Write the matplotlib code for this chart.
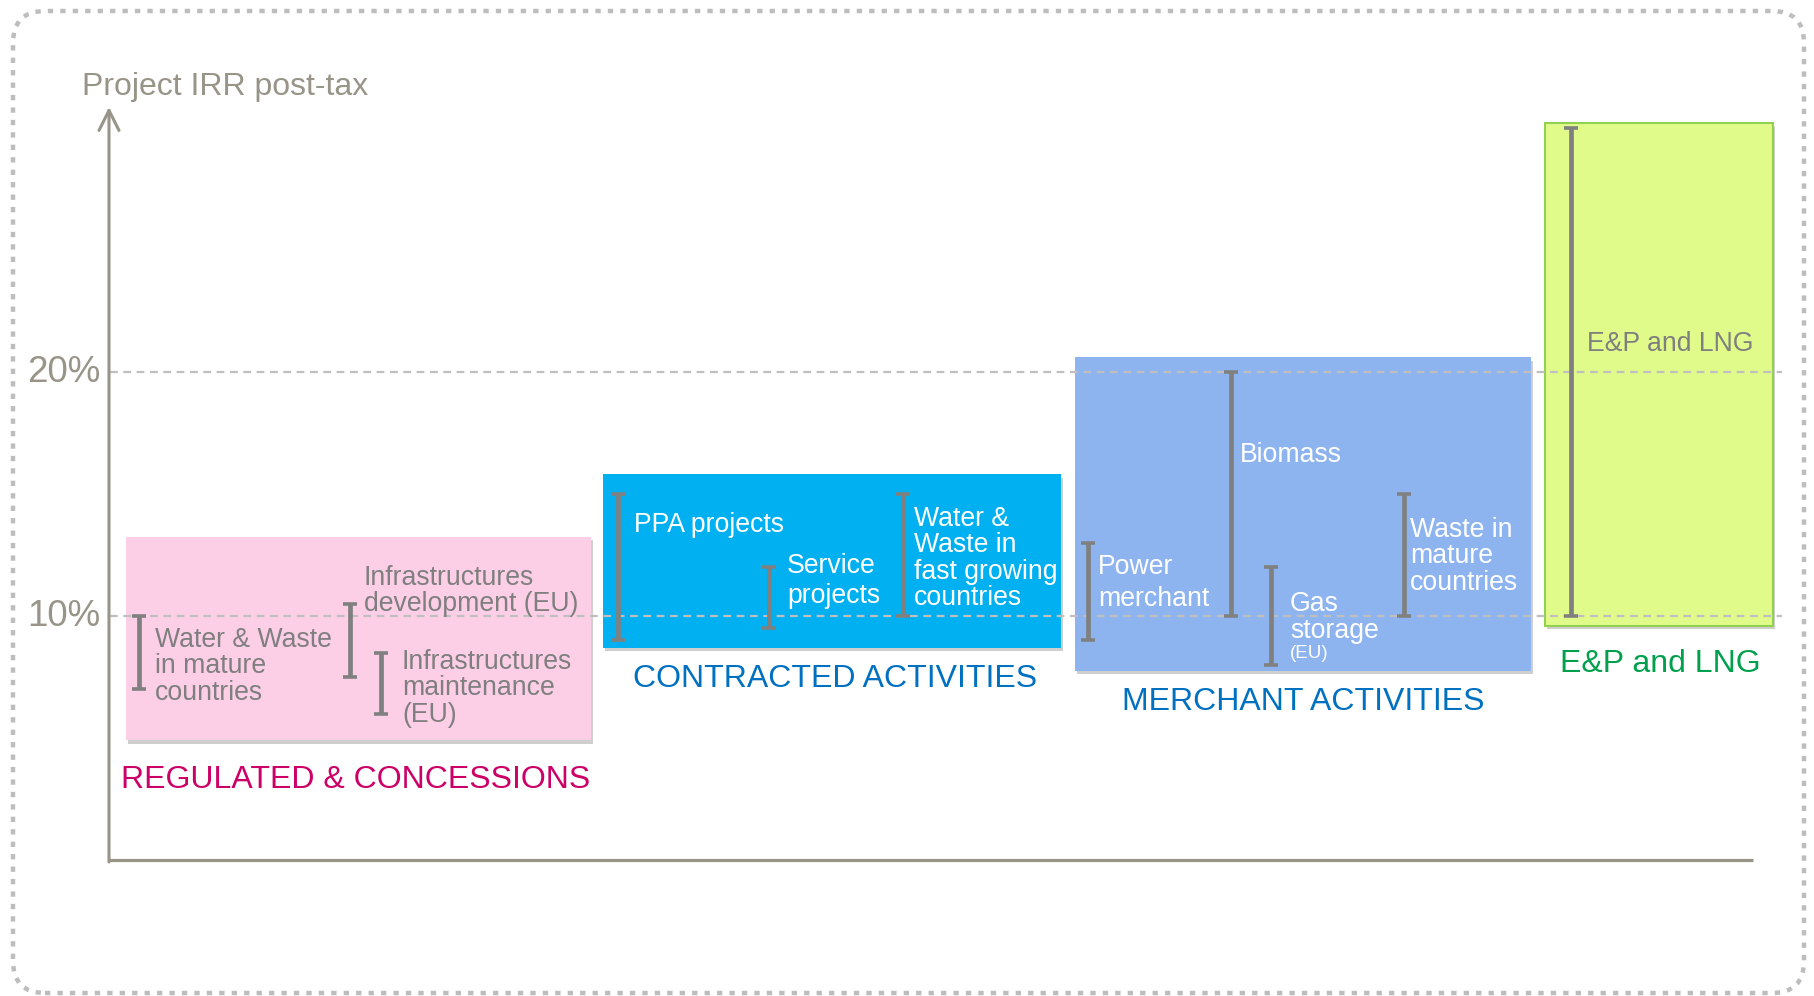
import matplotlib
matplotlib.use('Agg')
from matplotlib import pyplot as plt
from matplotlib.patches import FancyBboxPatch
from matplotlib.transforms import IdentityTransform
import matplotlib.patheffects as pe
import numpy as np

plt.rcParams['font.family'] = ['Liberation Sans', 'DejaVu Sans']

# ---- data ----
groups = ['REGULATED & CONCESSIONS', 'CONTRACTED ACTIVITIES', 'MERCHANT ACTIVITIES', 'E&P and LNG']
group_low = [4.9, 8.7, 7.75, 9.6]
group_high = [13.25, 15.8, 20.6, 30.2]

projects = ['Water & Waste\nin mature\ncountries', 'Infrastructures\ndevelopment (EU)',
            'Infrastructures\nmaintenance\n(EU)', 'PPA projects', 'Service\nprojects',
            'Water &\nWaste in\nfast growing\ncountries', 'Power\nmerchant', 'Biomass',
            'Gas\nstorage', 'Waste in\nmature\ncountries', 'E&P and LNG']
proj_group = [0, 0, 0, 1, 1, 1, 2, 2, 2, 2, 3]
proj_low = [7.0, 7.5, 6.0, 9.0, 9.5, 10.0, 9.0, 10.0, 8.0, 10.0, 10.0]
proj_high = [10.0, 10.5, 8.5, 15.0, 12.0, 15.0, 13.0, 20.0, 12.0, 15.0, 30.0]

yticks = [10, 20]
ylabel = 'Project IRR post-tax'

# ---- styling / layout (pixels of the 1815x996 canvas) ----
W, H = 1815, 996
fill_colors = ['#FDCFE7', '#00B0F0', '#8EB4F0', '#E1FB8B']
edge_colors = ['none', 'none', 'none', '#92D050']
title_colors = ['#CC0066', '#0070C0', '#0070C0', '#00A04C']
inner_colors = ['#7F7F7F', 'white', 'white', '#7F7F7F']
axis_color = '#989488'

box_x = [(126, 591), (603, 1061), (1075, 1531), (1545, 1773)]
group_label_xy = [(356, 765), (835, 664), (1303, 687), (1660, 649)]
bar_x = [139, 350, 381, 618, 769, 903, 1088, 1231, 1271, 1404, 1571]
label_xy = [(155, 627), (364, 565), (402, 649), (634, 512), (787, 553), (914, 506),
            (1098, 554), (1240, 442), (1290, 591), (1410, 517), (1587, 331)]
label_ls = [1.02, 1.02, 1.02, 1.0, 1.2, 1.02, 1.3, 1.0, 1.05, 1.02, 1.0]


def v(py):
    # pixel row -> percent value (0% at row 860, 10 points per 244 px)
    return (860 - py) / 24.4


fig = plt.figure(figsize=(W / 100, H / 100), dpi=100)
ax = fig.add_axes([0, 0, 1, 1])
ax.set_xlim(0, W)
ax.set_ylim(v(H), v(0))
ax.axis('off')

# group boxes
lefts = [b[0] for b in box_x]
widths = [b[1] - b[0] for b in box_x]
heights = np.array(group_high) - np.array(group_low)
bars = ax.bar(lefts, heights, bottom=group_low, width=widths, align='edge',
              color=fill_colors, edgecolor=edge_colors, linewidth=1.5, zorder=1)
for b in bars:
    b.set_path_effects([pe.SimplePatchShadow(offset=(1.5, -2.5), shadow_rgbFace='#777777', alpha=0.35),
                        pe.Normal()])

for i, g in enumerate(groups):
    gx, gy = group_label_xy[i]
    ax.text(gx, v(gy), g, ha='center', va='top', fontsize=23, color=title_colors[i], zorder=4)

# reference lines
ax.hlines(yticks, 110, 1782, colors='#BFBFBF', linewidth=1.6, linestyles=(0, (3.5, 2.5)), zorder=2)
for t in yticks:
    ax.text(100, t, f'{t}%', ha='right', va='center', fontsize=26.5, color=axis_color)

# project ranges
low = np.array(proj_low)
high = np.array(proj_high)
mid = (low + high) / 2
ax.errorbar(bar_x, mid, yerr=[mid - low, high - mid], fmt='none', ecolor='#808080',
            elinewidth=3.4, capsize=5.3, capthick=2.6, zorder=3)

for i, p in enumerate(projects):
    lx, ly = label_xy[i]
    ax.text(lx, v(ly), p, ha='left', va='top', fontsize=19.2, linespacing=label_ls[i],
            color=inner_colors[proj_group[i]], zorder=4)
ax.text(1290, v(645), '(EU)', ha='left', va='top', fontsize=13.5, color='white', zorder=4)

# axes with arrow
ax.plot([108, 1753], [0, 0], color=axis_color, lw=2.3, solid_capstyle='butt', zorder=2)
ax.annotate('', xy=(109, v(107)), xytext=(109, v(862)),
            arrowprops=dict(arrowstyle='->,head_length=1.0,head_width=0.5', lw=2.2,
                            color=axis_color, mutation_scale=14.4, shrinkA=0, shrinkB=0))
ax.text(82, v(72), ylabel, ha='left', va='top', fontsize=23, color=axis_color)

# dotted rounded frame
frame = FancyBboxPatch((13, 3), 1791, 982, boxstyle='round,pad=0,rounding_size=32',
                       transform=IdentityTransform(), fill=False, edgecolor='#BDBDBD',
                       linewidth=3.2, linestyle=(0, (1.2, 1.6)))
fig.add_artist(frame)

plt.savefig('out.png', dpi=100)
